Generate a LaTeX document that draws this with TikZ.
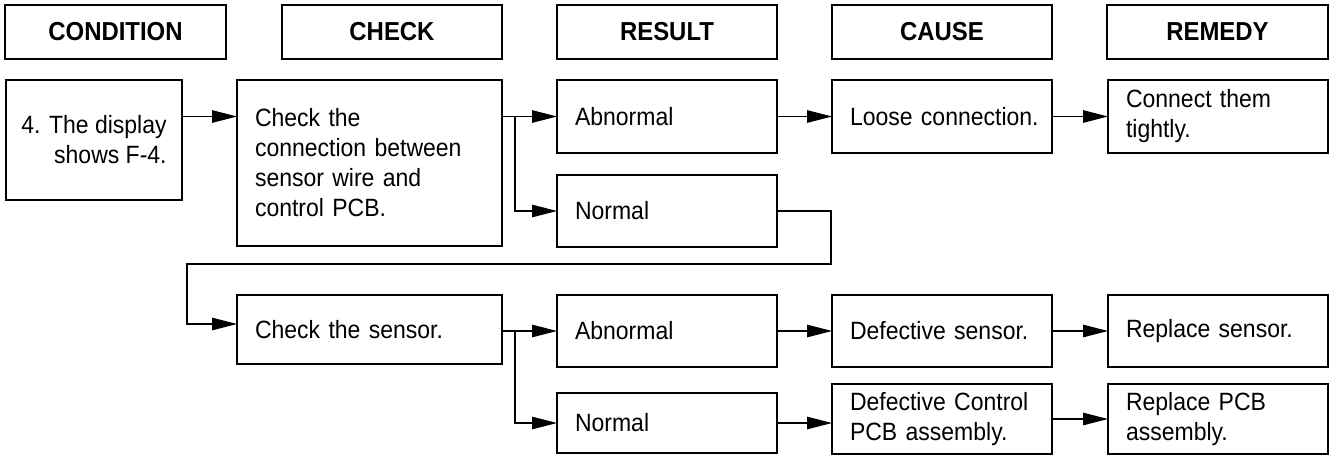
\documentclass[tikz,border=0pt]{standalone}
\usepackage{fontspec}
\setmainfont{Liberation Sans}[FakeStretch=0.92]
\usetikzlibrary{arrows.meta}
\tikzset{
  hdr/.style={draw, line width=1.8pt, rectangle, anchor=north west, inner sep=0pt, outer sep=0pt,
    minimum height=54pt, font=\fontsize{26}{30}\selectfont\bfseries},
  bx/.style={draw, line width=1.3pt, rectangle, anchor=north west, inner xsep=18pt, inner ysep=0pt,
    outer sep=0pt, align=left, font=\fontsize{25}{30}\selectfont},
  conn/.style={line width=1.1pt},
  arr/.style={conn, -{Triangle[length=25pt,width=12.5pt]}}
}
\begin{document}
\begin{tikzpicture}[x=1pt,y=-1pt]
\useasboundingbox (0,0) rectangle (1330,457);
% headers
\node[hdr, minimum width=221pt] (hcond)  at (5,5)    {CONDITION};
\node[hdr, minimum width=220pt] (hcheck) at (282,5)  {CHECK};
\node[hdr, minimum width=220pt] (hres)   at (557,5)  {RESULT};
\node[hdr, minimum width=220pt] (hcause) at (832,5)  {CAUSE};
\node[hdr, minimum width=221pt] (hrem)   at (1107,5) {REMEDY};
% row 1
\node[bx, align=right, inner xsep=0pt, minimum width=176pt, minimum height=120pt] (cond) at (6,80) {4. The display\\shows F-4.};
\node[bx, text width=229pt, minimum height=166pt] (check) at (237,80) {Check the\\connection between\\sensor wire and\\control PCB.};
\node[bx, text width=184pt, minimum height=73pt] (ab1) at (557,80) {Abnormal};
\node[bx, text width=184pt, minimum height=72pt] (no1) at (557,175) {Normal};
\node[bx, text width=184pt, minimum height=73pt] (loose) at (832,80) {\mbox{Loose connection.}};
\node[bx, text width=184pt, minimum height=73pt] (tight) at (1108,80) {Connect them\\tightly.};
% row 2
\node[bx, text width=229pt, minimum height=69pt] (chks) at (237,295) {\mbox{Check the sensor.}};
\node[bx, text width=184pt, minimum height=72pt] (ab2) at (557,295) {Abnormal};
\node[bx, text width=184pt, minimum height=60pt] (no2) at (557,393) {Normal};
\node[bx, text width=184pt, minimum height=72pt] (defs) at (832,295) {\mbox{Defective sensor.}};
\node[bx, text width=184pt, minimum height=70pt] (defc) at (832,384) {\mbox{Defective Control}\\\mbox{PCB assembly.}};
\node[bx, text width=184pt, minimum height=72pt] (reps) at (1108,295) {\mbox{Replace sensor.}};
\node[bx, text width=184pt, minimum height=70pt] (repp) at (1108,384) {Replace PCB\\assembly.};
% junction coordinates
\coordinate (b1) at (515,116.5);
\coordinate (b2) at (515,331);
\coordinate (r1) at (831,264);
\coordinate (l1) at (187,264);
\coordinate (e2) at (237,324);
% connectors row 1
\draw[arr] (cond.east |- ab1.west) -- (check.west |- ab1.west);
\draw[arr] (check.east |- ab1.west) -- (ab1.west);
\draw[arr] (b1) |- (no1.west);
\draw[arr] (ab1.east) -- (loose.west);
\draw[arr] (loose.east) -- (tight.west);
% loop to row 2
\draw[arr] (no1.east) -| (r1) -- (l1) |- (e2);
% connectors row 2
\draw[arr] (chks.east |- ab2.west) -- (ab2.west);
\draw[arr] (b2) |- (no2.west);
\draw[arr] (ab2.east) -- (defs.west);
\draw[arr] (defs.east) -- (reps.west);
\draw[arr] (no2.east) -- (defc.west |- no2.east);
\draw[arr] (defc.east) -- (repp.west);
\end{tikzpicture}
\end{document}
